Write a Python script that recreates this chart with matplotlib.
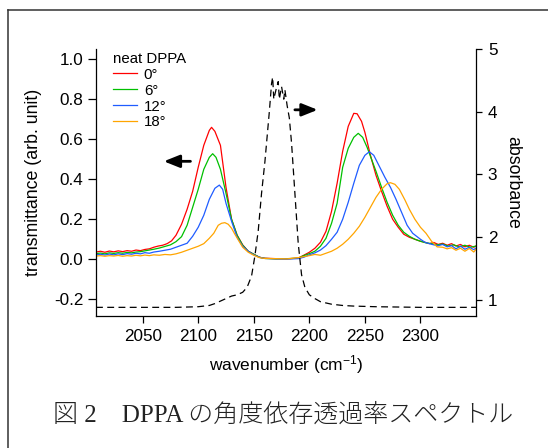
import matplotlib
matplotlib.use("Agg")
import matplotlib.pyplot as plt
from matplotlib.lines import Line2D

plt.rcParams['font.family'] = ['Liberation Sans', 'DejaVu Sans']
plt.rcParams['axes.unicode_minus'] = False
plt.rcParams['mathtext.fontset'] = 'custom'
plt.rcParams['mathtext.rm'] = 'Liberation Sans'
plt.rcParams['mathtext.it'] = 'Liberation Sans:italic'

# ---------------- data ----------------
wn_red = [2008, 2012, 2016, 2020, 2024, 2028, 2032, 2036, 2040, 2044, 2048, 2052, 2056, 2060, 2064,
          2068, 2072, 2076, 2080, 2085, 2090, 2095, 2100, 2105, 2110, 2112, 2115, 2120, 2125, 2130,
          2135, 2140, 2145, 2150, 2155, 2160, 2170, 2180, 2190, 2195, 2200, 2205, 2210, 2215, 2220,
          2225, 2230, 2235, 2240, 2243, 2247, 2250, 2255, 2260, 2265, 2270, 2275, 2280, 2285, 2290,
          2295, 2300, 2304, 2308, 2312, 2316, 2320, 2324, 2328, 2332, 2336, 2340, 2344, 2348, 2350]
t_red = [0.036, 0.040, 0.035, 0.041, 0.037, 0.042, 0.038, 0.043, 0.040, 0.046, 0.043, 0.049, 0.052, 0.060, 0.066,
         0.070, 0.078, 0.092, 0.120, 0.175, 0.250, 0.340, 0.460, 0.570, 0.645, 0.660, 0.640, 0.570, 0.360, 0.200,
         0.120, 0.072, 0.040, 0.025, 0.010, 0.005, 0.003, 0.002, 0.006, 0.020, 0.035, 0.055, 0.085, 0.140, 0.240,
         0.380, 0.540, 0.665, 0.730, 0.728, 0.690, 0.635, 0.520, 0.420, 0.340, 0.265, 0.200, 0.160, 0.125, 0.110,
         0.100, 0.090, 0.085, 0.078, 0.084, 0.074, 0.080, 0.070, 0.078, 0.066, 0.074, 0.062, 0.070, 0.060, 0.066]

wn_green = [2008, 2012, 2016, 2020, 2024, 2028, 2032, 2036, 2040, 2044, 2048, 2052, 2056, 2060, 2065,
            2070, 2075, 2080, 2085, 2090, 2095, 2100, 2105, 2110, 2113, 2116, 2120, 2125, 2130, 2135,
            2140, 2145, 2150, 2155, 2160, 2170, 2180, 2190, 2195, 2200, 2205, 2210, 2215, 2220, 2225,
            2230, 2235, 2240, 2244, 2248, 2252, 2256, 2260, 2265, 2270, 2275, 2280, 2285, 2290, 2295,
            2300, 2305, 2310, 2315, 2320, 2325, 2330, 2335, 2340, 2345, 2350]
t_green = [0.028, 0.031, 0.027, 0.032, 0.029, 0.033, 0.030, 0.034, 0.032, 0.036, 0.038, 0.042, 0.046, 0.050, 0.056,
           0.064, 0.072, 0.088, 0.113, 0.170, 0.260, 0.350, 0.450, 0.510, 0.528, 0.510, 0.450, 0.330, 0.200, 0.120,
           0.070, 0.040, 0.025, 0.010, 0.004, 0.002, 0.003, 0.005, 0.018, 0.028, 0.040, 0.065, 0.105, 0.180, 0.280,
           0.460, 0.555, 0.610, 0.630, 0.610, 0.560, 0.500, 0.440, 0.360, 0.285, 0.220, 0.170, 0.135, 0.115, 0.100,
           0.090, 0.082, 0.078, 0.072, 0.076, 0.066, 0.072, 0.062, 0.070, 0.060, 0.066]

wn_blue = [2008, 2012, 2016, 2020, 2024, 2028, 2032, 2036, 2040, 2044, 2048, 2052, 2056, 2060, 2065,
           2070, 2075, 2080, 2085, 2090, 2095, 2100, 2105, 2110, 2115, 2119, 2122, 2125, 2130, 2135,
           2140, 2145, 2150, 2155, 2160, 2170, 2180, 2190, 2195, 2200, 2205, 2210, 2215, 2220, 2225,
           2230, 2235, 2240, 2245, 2250, 2254, 2258, 2263, 2268, 2273, 2278, 2283, 2288, 2293, 2300,
           2304, 2308, 2312, 2316, 2320, 2324, 2328, 2332, 2336, 2340, 2344, 2348, 2350]
t_blue = [0.022, 0.025, 0.021, 0.026, 0.022, 0.027, 0.023, 0.028, 0.025, 0.030, 0.027, 0.033, 0.030, 0.036, 0.040,
          0.045, 0.050, 0.060, 0.070, 0.080, 0.115, 0.160, 0.220, 0.300, 0.355, 0.371, 0.350, 0.280, 0.190, 0.110,
          0.065, 0.040, 0.022, 0.010, 0.004, 0.002, 0.001, 0.003, 0.010, 0.022, 0.032, 0.046, 0.068, 0.100, 0.135,
          0.200, 0.285, 0.380, 0.470, 0.520, 0.538, 0.520, 0.465, 0.410, 0.360, 0.300, 0.235, 0.170, 0.130, 0.100,
          0.085, 0.078, 0.072, 0.068, 0.074, 0.062, 0.068, 0.052, 0.066, 0.050, 0.060, 0.048, 0.056]

wn_orange = [2008, 2012, 2016, 2020, 2024, 2028, 2032, 2036, 2040, 2044, 2048, 2052, 2056, 2060, 2065,
             2070, 2075, 2080, 2085, 2090, 2095, 2100, 2105, 2110, 2114, 2118, 2121, 2124, 2127, 2130,
             2133, 2136, 2140, 2145, 2150, 2155, 2160, 2170, 2180, 2190, 2196, 2200, 2205, 2210, 2215,
             2220, 2225, 2230, 2235, 2240, 2245, 2250, 2255, 2260, 2265, 2270, 2273, 2277, 2281, 2286,
             2290, 2295, 2300, 2305, 2310, 2315, 2320, 2324, 2328, 2332, 2336, 2340, 2344, 2348, 2350]
t_orange = [0.016, 0.018, 0.015, 0.018, 0.016, 0.019, 0.015, 0.018, 0.016, 0.020, 0.017, 0.021, 0.018, 0.022, 0.020,
            0.024, 0.022, 0.027, 0.035, 0.045, 0.055, 0.065, 0.078, 0.105, 0.130, 0.170, 0.180, 0.183, 0.175, 0.155,
            0.125, 0.097, 0.060, 0.035, 0.020, 0.008, 0.004, 0.003, 0.002, 0.008, 0.014, 0.018, 0.024, 0.020, 0.030,
            0.040, 0.055, 0.075, 0.100, 0.130, 0.165, 0.210, 0.260, 0.310, 0.350, 0.378, 0.383, 0.375, 0.350, 0.297,
            0.250, 0.200, 0.160, 0.130, 0.090, 0.062, 0.060, 0.052, 0.058, 0.045, 0.055, 0.040, 0.054, 0.036, 0.050]

wn_abs = [2008, 2050, 2080, 2100, 2110, 2115, 2120, 2125, 2130, 2135, 2140, 2144, 2148, 2151, 2154,
          2157, 2160, 2162, 2164, 2166, 2167, 2168, 2170, 2172, 2173, 2175, 2177, 2178, 2180, 2182,
          2184, 2187, 2190, 2193, 2196, 2200, 2205, 2210, 2220, 2230, 2240, 2260, 2300, 2350]
a_abs = [0.88, 0.88, 0.88, 0.89, 0.91, 0.94, 0.98, 1.02, 1.06, 1.08, 1.12, 1.20, 1.38, 1.70, 2.10,
         2.70, 3.20, 3.60, 4.00, 4.45, 4.55, 4.20, 4.35, 4.48, 4.20, 4.40, 4.20, 4.35, 4.10, 3.90,
         3.50, 2.70, 1.90, 1.40, 1.20, 1.08, 1.02, 0.97, 0.93, 0.91, 0.90, 0.89, 0.88, 0.88]

labels = ['0°', '6°', '12°', '18°']
colors = ['#ff0000', '#00c000', '#1f5cff', '#ffa500']
legend_title = 'neat DPPA'

xticks = [2050, 2100, 2150, 2200, 2250, 2300]
yticks_left = [-0.2, 0.0, 0.2, 0.4, 0.6, 0.8, 1.0]
yticks_right = [1, 2, 3, 4, 5]
caption = '図 2　DPPA の角度依存透過率スペクトル'

# ---------------- figure ----------------
W, H = 548, 448
fig = plt.figure(figsize=(W / 100, H / 100), dpi=100)
fig.patch.set_facecolor('white')
ax = fig.add_axes([96 / W, 1 - 316 / H, (476 - 96) / W, (316 - 49) / H])
ax2 = ax.twinx()

series = [(wn_red, t_red), (wn_green, t_green), (wn_blue, t_blue), (wn_orange, t_orange)]
handles = []
for (x, y), c, lab in zip(series, colors, labels):
    h, = ax.plot(x, y, color=c, lw=0.9, label=lab)
    handles.append(h)

ax2.plot(wn_abs, a_abs, color='black', lw=0.9, ls=(0, (5.5, 3.5)))

ax.set_xlim(2008, 2350)
ax.set_ylim(-0.284, 1.052)
ax2.set_ylim(0.742, 5.0)

for a in (ax, ax2):
    a.spines['top'].set_visible(False)
    for s in a.spines.values():
        s.set_linewidth(0.9)
ax.spines['right'].set_visible(False)
ax2.spines['left'].set_visible(False)
ax2.spines['bottom'].set_visible(False)

FS = 12.3
ax.set_xticks(xticks)
ax.set_yticks(yticks_left)
ax.set_yticklabels([f'{v:.1f}' for v in yticks_left])
ax2.set_yticks(yticks_right)
ax.tick_params(axis='x', direction='out', length=5, width=0.9, labelsize=FS, pad=4)
ax.tick_params(axis='y', direction='out', length=6, width=0.9, labelsize=FS, pad=3)
ax2.tick_params(axis='y', direction='out', length=4.5, width=0.9, labelsize=FS, pad=4)

ax.set_xlabel('wavenumber (cm$^{-1}$)', fontsize=12.5, labelpad=7)
ax.set_ylabel('transmittance (arb. unit)', fontsize=12.8, labelpad=9)
ax2.set_ylabel('absorbance', fontsize=12.8, rotation=270, labelpad=17)

leg = ax.legend(handles=handles, title=legend_title, loc='upper left',
                bbox_to_anchor=(0.045, 0.99), frameon=False, fontsize=10.8,
                title_fontsize=10.8, handlelength=1.6, handletextpad=0.45,
                labelspacing=0.13, borderpad=0, borderaxespad=0, alignment='left')

# arrows indicating axes
ax.annotate('', xy=(2069, 0.49), xytext=(2093, 0.49),
            arrowprops=dict(arrowstyle='-|>,head_length=0.95,head_width=0.38',
                            color='black', lw=2, shrinkA=0, shrinkB=0))
ax2.annotate('', xy=(2207.5, 4.03), xytext=(2187, 4.03),
             arrowprops=dict(arrowstyle='-|>,head_length=0.95,head_width=0.38',
                             color='black', lw=2, shrinkA=0, shrinkB=0))

# caption
fig.text(283 / W, 1 - 415 / H, caption, ha='center', va='center', fontsize=18,
         family=['Liberation Serif', 'Noto Sans CJK JP'], weight='light', color='#222222')

# page frame lines
fig.add_artist(Line2D([7.5 / W, 1.0], [1 - 10.5 / H, 1 - 10.5 / H], transform=fig.transFigure,
                      color='#333333', lw=1.1))
fig.add_artist(Line2D([7.5 / W, 7.5 / W], [0, 1 - 10.5 / H], transform=fig.transFigure,
                      color='#333333', lw=1.1))

fig.savefig('out.png', dpi=100, facecolor='white')
